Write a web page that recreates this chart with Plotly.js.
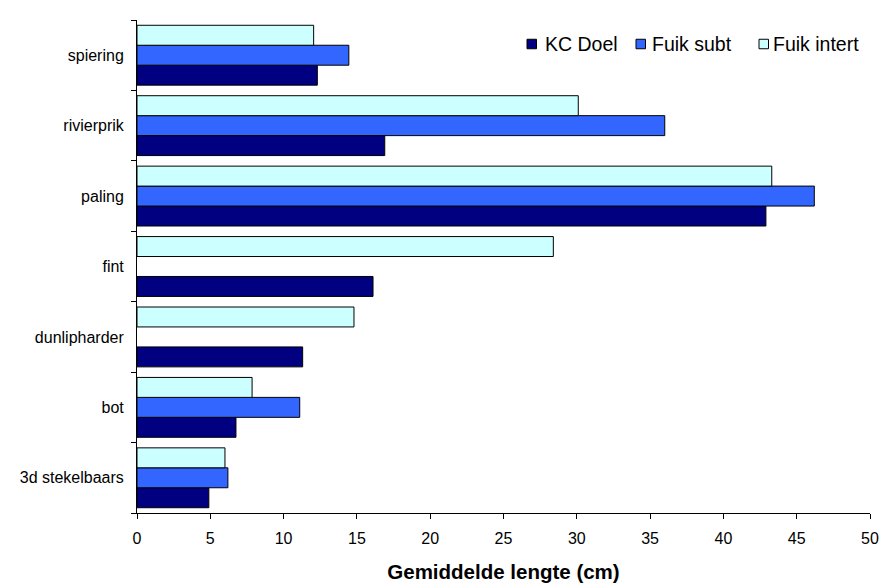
<!DOCTYPE html>
<html>
<head>
<meta charset="utf-8">
<script src="https://cdn.plot.ly/plotly-3.0.1.min.js"></script>
<style>
  html, body { margin: 0; padding: 0; background: #ffffff; }
  #chart { width: 885px; height: 583px; }
</style>
</head>
<body>
<div id="chart"></div>
<script>
// Soorten (van onder naar boven)
const soorten = ["3d stekelbaars", "bot", "dunlipharder", "fint", "paling", "rivierprik", "spiering"];

// Gemiddelde lengte (cm) per vangstmethode
const kcDoel     = [4.9, 6.75, 11.3, 16.1, 42.9, 16.9, 12.3];
const fuikSubt   = [6.2, 11.1, null, null, 46.2, 36.0, 14.45];
const fuikIntert = [6.0, 7.85, 14.8, 28.4, 43.3, 30.1, 12.05];

const reeksNamen = ["KC Doel", "Fuik subt", "Fuik intert"];
const kleuren = ["#000080", "#3366FF", "#CCFFFF"];

const reeksen = [kcDoel, fuikSubt, fuikIntert];

const traces = reeksen.map((waarden, i) => ({
  type: "bar",
  orientation: "h",
  name: reeksNamen[i],
  y: soorten,
  x: waarden,
  marker: { color: kleuren[i], line: { color: "#000000", width: 1 } },
  hoverinfo: "x+name"
}));

// Plotgebied in pixels
const W = 885, H = 583;
const M = { l: 137, r: 15, t: 20, b: 70 };
const plotW = W - M.l - M.r;
const plotH = H - M.t - M.b;
const px = x => (x - M.l) / plotW;
const py = y => (H - M.b - y) / plotH;

// Eigen legenda: vierkantje met zwarte rand + naam
const legendaItems = [
  { sq: 527, tx: 543 },
  { sq: 636, tx: 650 },
  { sq: 759, tx: 771 }
];
const legY = 44;
const sqSize = 9.5;

const shapes = legendaItems.map((it, i) => ({
  type: "rect",
  xref: "paper", yref: "paper",
  x0: px(it.sq), x1: px(it.sq + sqSize),
  y0: py(legY + sqSize / 2), y1: py(legY - sqSize / 2),
  fillcolor: kleuren[i],
  line: { color: "#000000", width: 1 }
}));

const annotations = legendaItems.map((it, i) => ({
  xref: "paper", yref: "paper",
  x: px(it.tx), y: py(legY),
  xanchor: "left", yanchor: "middle",
  text: reeksNamen[i],
  showarrow: false,
  font: { size: 19.5, color: "#000000" }
}));

const layout = {
  width: W,
  height: H,
  margin: M,
  paper_bgcolor: "#ffffff",
  plot_bgcolor: "#ffffff",
  barmode: "group",
  bargap: 0.15,
  bargroupgap: 0,
  font: { family: "Liberation Sans, Arial, sans-serif", size: 16, color: "#000000" },
  showlegend: false,
  shapes: shapes,
  annotations: annotations,
  xaxis: {
    range: [0, 50],
    dtick: 5,
    tick0: 0,
    showgrid: false,
    zeroline: false,
    showline: true,
    linecolor: "#000000",
    linewidth: 1,
    ticks: "outside",
    ticklen: 5,
    tickcolor: "#000000",
    tickfont: { size: 16 },
    ticklabelstandoff: 6,
    automargin: false,
    title: {
      text: "Gemiddelde lengte (cm)",
      font: { size: 20.5, weight: "bold" },
      standoff: 19
    },
    fixedrange: true
  },
  yaxis: {
    type: "category",
    categoryorder: "array",
    categoryarray: soorten,
    showgrid: false,
    zeroline: false,
    showline: true,
    linecolor: "#000000",
    linewidth: 1,
    ticks: "outside",
    tickson: "boundaries",
    ticklen: 5,
    tickcolor: "#000000",
    tickfont: { size: 16 },
    ticklabelstandoff: 9,
    automargin: false,
    fixedrange: true
  }
};

Plotly.newPlot("chart", traces, layout, { displayModeBar: false, staticPlot: true });
</script>
</body>
</html>
